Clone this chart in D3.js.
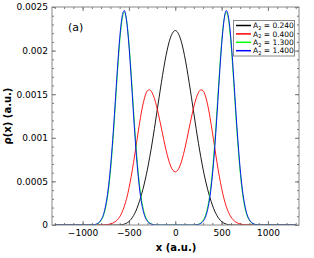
<!DOCTYPE html>
<html><head><meta charset="utf-8">
<script src="https://cdn.jsdelivr.net/npm/d3@7"></script>
<style>body{margin:0;background:#fff}svg{display:block}</style>
</head><body>
<svg id="c" width="314" height="258"></svg>
<script>
// x grid (a.u.)
const xs = [-1300,
 -900,-875,-850,-825,-800,-775,-750,-725,-700,-675,-650,-625,-600,-575,-550,-525,-500,-475,-450,-425,-400,-375,-350,-325,-300,-275,-250,-225,-200,-175,-150,-125,-100,-75,-50,-25,
 0,
 25,50,75,100,125,150,175,200,225,250,275,300,325,350,375,400,425,450,475,500,525,550,575,600,625,650,675,700,725,750,775,800,825,850,875,900,
 1300];

const rhoA024 = [0,
 0,0,0,0,0,0,0,0,0,0,0,0,0.000001,0.000004,0.00001,0.000021,0.00004,0.000068,0.000108,0.00016,0.00023,0.00031,0.000405,0.000516,0.000641,0.000783,0.000938,0.001106,0.001282,0.001459,0.001633,0.001796,0.001942,0.002063,0.002154,0.00221,
 0.00223,
 0.00221,0.002154,0.002063,0.001942,0.001796,0.001633,0.001459,0.001282,0.001106,0.000938,0.000783,0.000641,0.000516,0.000405,0.00031,0.00023,0.00016,0.000108,0.000068,0.00004,0.000021,0.00001,0.000004,0.000001,0,0,0,0,0,0,0,0,0,0,0,0,
 0];

const rhoA040 = [0,
 0,0,0,0,0,0.000001,0.000003,0.000006,0.000012,0.000021,0.000036,0.000059,0.000094,0.000144,0.000213,0.000304,0.00042,0.000559,0.000718,0.000891,0.001067,0.001233,0.001375,0.001481,0.00154,0.00155,0.001517,0.001451,0.001355,0.001239,0.001111,0.000982,0.000861,0.000757,0.000677,0.000626,
 0.000609,
 0.000626,0.000677,0.000757,0.000861,0.000982,0.001111,0.001239,0.001355,0.001451,0.001517,0.00155,0.00154,0.001481,0.001375,0.001233,0.001067,0.000891,0.000718,0.000559,0.00042,0.000304,0.000213,0.000144,0.000094,0.000059,0.000036,0.000021,0.000012,0.000006,0.000003,0.000001,0,0,0,0,0,
 0];

const rhoA130 = [0,
 0,0.000004,0.000009,0.000023,0.000052,0.000107,0.000207,0.000368,0.000608,0.00093,0.001316,0.001725,0.002091,0.002347,0.00244,0.002347,0.002091,0.001725,0.001316,0.00093,0.000608,0.000368,0.000207,0.000107,0.000052,0.000023,0.000009,0.000004,0,0,0,0,0,0,0,0,
 0,
 0,0,0,0,0,0,0,0,0.000004,0.000009,0.000023,0.000052,0.000107,0.000207,0.000368,0.000608,0.00093,0.001316,0.001725,0.002091,0.002347,0.00244,0.002347,0.002091,0.001725,0.001316,0.00093,0.000608,0.000368,0.000207,0.000107,0.000052,0.000023,0.000009,0.000004,0,
 0];

const rhoA140 = [0,
 0,0.000004,0.000011,0.000027,0.00006,0.00012,0.00023,0.0004,0.00065,0.00098,0.00137,0.00178,0.00214,0.00238,0.00246,0.00234,0.00206,0.00168,0.00126,0.00087,0.00056,0.00033,0.00018,0.00009,0.000042,0.000018,0.000007,0.000002,0,0,0,0,0,0,0,0,
 0,
 0,0,0,0,0,0,0,0,0.000002,0.000007,0.000018,0.000042,0.00009,0.00018,0.00033,0.00056,0.00087,0.00126,0.00168,0.00206,0.00234,0.00246,0.00238,0.00214,0.00178,0.00137,0.00098,0.00065,0.0004,0.00023,0.00012,0.00006,0.000027,0.000011,0.000004,0,
 0];

const seriesNames = ["0.240", "0.400", "1.300", "1.400"];
const seriesColors = ["#000000", "#ff0000", "#00ff00", "#0000ff"];
const seriesValues = [rhoA024, rhoA040, rhoA130, rhoA140];

const xTicks = [-1000, -500, 0, 500, 1000];
const yTicks = [0, 0.0005, 0.001, 0.0015, 0.002, 0.0025];
const yTickLabels = ["0", "0.0005", "0.001", "0.0015", "0.002", "0.0025"];

const svg = d3.select("#c");
const L = 52, R = 299, T = 7, B = 225;
const x = d3.scaleLinear().domain([-1330, 1335]).range([L, R]);
const y = d3.scaleLinear().domain([0, 0.0025]).range([B, T]);

svg.append("defs").append("clipPath").attr("id", "clip")
  .append("rect").attr("x", L).attr("y", T - 2).attr("width", R - L).attr("height", B - T + 2);

const tickColor = "#777";
const xMinor = d3.range(-1300, 1301, 100);
const yMinor = d3.range(0, 0.00251, 0.0001);

function styleAxis(g) {
  g.select(".domain").remove();
  g.selectAll(".tick line").attr("stroke", tickColor);
  g.selectAll("text").attr("font-family", "DejaVu Sans, sans-serif").attr("font-size", 9).attr("fill", "#000");
}

// bottom
svg.append("g").attr("transform", `translate(0,${B})`)
  .call(d3.axisBottom(x).tickValues(xMinor).tickSize(-2).tickFormat("")).call(styleAxis);
svg.append("g").attr("transform", `translate(0,${B})`)
  .call(d3.axisBottom(x).tickValues(xTicks).tickSize(-4).tickPadding(5).tickFormat(d => d < 0 ? "\u2212" + Math.abs(d) : d)).call(styleAxis);
// top
svg.append("g").attr("transform", `translate(0,${T})`)
  .call(d3.axisTop(x).tickValues(xMinor).tickSize(-2).tickFormat("")).call(styleAxis);
svg.append("g").attr("transform", `translate(0,${T})`)
  .call(d3.axisTop(x).tickValues(xTicks).tickSize(-4).tickFormat("")).call(styleAxis);
// left
svg.append("g").attr("transform", `translate(${L},0)`)
  .call(d3.axisLeft(y).tickValues(yMinor).tickSize(-2).tickFormat("")).call(styleAxis);
svg.append("g").attr("transform", `translate(${L},0)`)
  .call(d3.axisLeft(y).tickValues(yTicks).tickSize(-4).tickPadding(4).tickFormat((d, i) => yTickLabels[i])).call(styleAxis);
// right
svg.append("g").attr("transform", `translate(${R},0)`)
  .call(d3.axisRight(y).tickValues(yMinor).tickSize(-2).tickFormat("")).call(styleAxis);
svg.append("g").attr("transform", `translate(${R},0)`)
  .call(d3.axisRight(y).tickValues(yTicks).tickSize(-4).tickFormat("")).call(styleAxis);

// curves
const line = d3.line().x((d, i) => x(xs[i])).y(d => y(d)).curve(d3.curveMonotoneX);
const plot = svg.append("g").attr("clip-path", "url(#clip)");
seriesValues.forEach((vals, k) => {
  plot.append("path").attr("d", line(vals)).attr("fill", "none")
    .attr("stroke", seriesColors[k]).attr("stroke-width", 0.9);
});

// frame
svg.append("rect").attr("x", L).attr("y", T).attr("width", R - L).attr("height", B - T)
  .attr("fill", "none").attr("stroke", "#888").attr("stroke-width", 1);

// panel label
svg.append("text").attr("x", 68).attr("y", 31).text("(a)")
  .attr("font-family", "DejaVu Sans, sans-serif").attr("font-size", 11);

// axis titles
svg.append("text").attr("x", 176).attr("y", 251).attr("text-anchor", "middle")
  .attr("font-family", "DejaVu Sans, sans-serif").attr("font-size", 10).attr("font-weight", "bold")
  .text("x (a.u.)");
svg.append("text").attr("transform", "translate(11,116) rotate(-90)").attr("text-anchor", "middle")
  .attr("font-family", "DejaVu Sans, sans-serif").attr("font-size", 10).attr("font-weight", "bold")
  .text("\u03c1(x) (a.u.)");

// legend
const lg = svg.append("g");
lg.append("rect").attr("x", 233.5).attr("y", 20.5).attr("width", 61).attr("height", 35.5)
  .attr("fill", "#fff").attr("stroke", "#888").attr("stroke-width", 1);
seriesNames.forEach((nm, k) => {
  const yy = 25.5 + k * 8.4;
  lg.append("line").attr("x1", 236).attr("x2", 251).attr("y1", yy).attr("y2", yy)
    .attr("stroke", seriesColors[k]).attr("stroke-width", 1.5);
  const t = lg.append("text").attr("x", 253).attr("y", yy + 2.7)
    .attr("font-family", "DejaVu Sans, sans-serif").attr("font-size", 7.5);
  t.append("tspan").text("A");
  t.append("tspan").attr("font-size", 5).attr("dy", 1.5).text("2");
  t.append("tspan").attr("dy", -1.5).text(" = " + nm);
});
</script>
</body></html>
